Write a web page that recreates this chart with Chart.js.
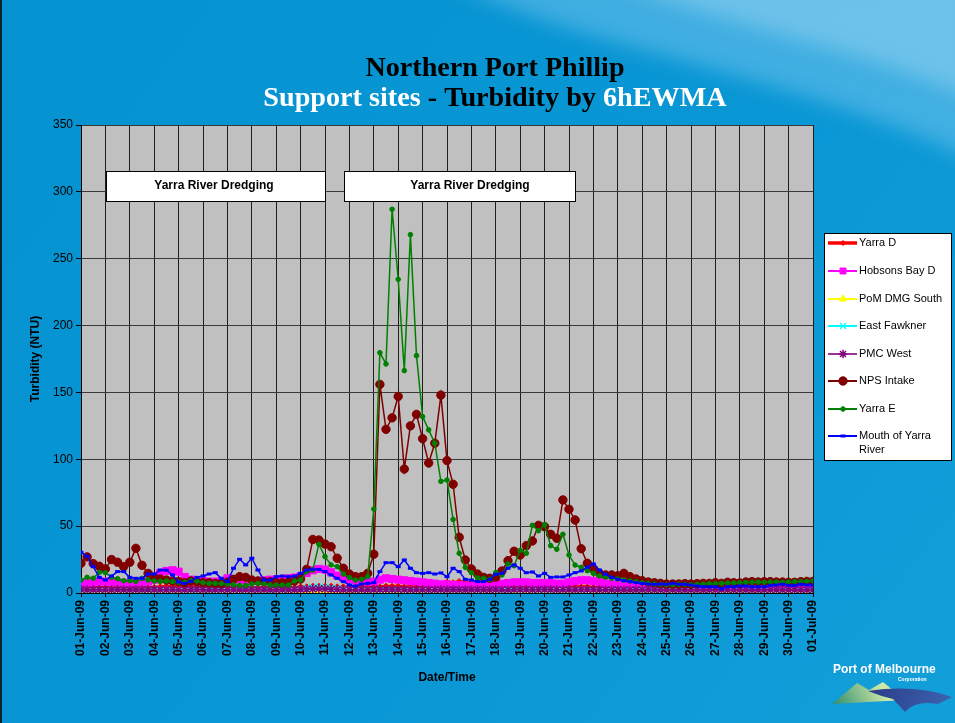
<!DOCTYPE html>
<html>
<head>
<meta charset="utf-8">
<title>Northern Port Phillip - Turbidity</title>
<script src="https://cdn.jsdelivr.net/npm/chart.js@4.4.1/dist/chart.umd.min.js"></script>
<style>
  html, body { margin: 0; padding: 0; background: #0996d3; overflow: hidden; }
  canvas { display: block; }
</style>
</head>
<body>
<canvas id="turbChart" width="955" height="723"></canvas>
<script>
// tick labels along the date axis (one per day)
const dateLabels = ['01-Jun-09','02-Jun-09','03-Jun-09','04-Jun-09','05-Jun-09','06-Jun-09','07-Jun-09','08-Jun-09',
  '09-Jun-09','10-Jun-09','11-Jun-09','12-Jun-09','13-Jun-09','14-Jun-09','15-Jun-09','16-Jun-09','17-Jun-09',
  '18-Jun-09','19-Jun-09','20-Jun-09','21-Jun-09','22-Jun-09','23-Jun-09','24-Jun-09','25-Jun-09','26-Jun-09',
  '27-Jun-09','28-Jun-09','29-Jun-09','30-Jun-09','01-Jul-09'];
const yTicks = [0, 50, 100, 150, 200, 250, 300, 350];

// one reading every 6 hours
const stepDays = 0.25;

const seriesNames = ['Yarra D','Hobsons Bay D','PoM DMG South','East Fawkner','PMC West','NPS Intake','Yarra E','Mouth of Yarra River'];

const yarraD = [
  4, 4, 4, 4.5, 4.5, 4, 4, 4, 3.5, 3.5, 4, 4,
  4.5, 5, 5.5, 5.5, 5.5, 5, 5, 5, 4.5, 4.5, 4.5, 4.5,
  4.5, 4.5, 4, 4, 4, 4, 4, 4, 4, 4, 4, 4.5,
  5, 5, 5.5, 5.5, 5.5, 5.5, 5, 5, 5, 5, 5, 5,
  5, 5, 5.5, 5.5, 5.5, 5, 5, 5, 5, 5, 6, 7,
  8.5, 8, 9, 8.5, 8, 9, 8, 7, 6, 5.5, 5, 5,
  5, 5, 5, 5, 5, 5, 5.5, 6, 5, 5, 5, 5,
  4.5, 4.5, 4.5, 4, 4, 4, 4, 4, 3.5, 3.5, 3.5, 3.5,
  3.5, 3.5, 3.5, 3.5, 3.5, 3.5, 3.5, 3.5, 3.5, 3.5, 3.5, 3.5,
  3.5, 3.5, 3.5, 3.5, 3.5, 3.5, 3.5, 3.5, 3.5, 3.5, 3.5, 3.5,
  3.5];

const hobsonsBayD = [
  7, 7.5, 8, 8.5, 8.5, 8, 8, 7.5, 7.5, 7.5, 8, 8.5,
  10, 15, 16.5, 17, 16, 12, 10, 9.5, 9, 8.5, 8.5, 9,
  11, 10.5, 10, 9.5, 9, 9, 9.5, 10, 10, 10.5, 11, 11.5,
  12.5, 15, 17, 18, 17.5, 15.5, 13, 11.5, 10.5, 9.5, 9, 8.5,
  8.5, 10, 11, 10.5, 10, 9.5, 9, 8.5, 8, 7.5, 7, 6.5,
  6.5, 6, 6, 5.5, 5.5, 5.5, 5.5, 6, 6, 7, 7.5, 8,
  8, 8, 7.5, 7.5, 7.5, 7.5, 7, 7, 8, 9, 9.5, 9.5,
  9, 8, 7, 6.5, 6, 5.5, 5.5, 5, 5, 4.5, 4.5, 4.5,
  4, 4, 4, 4, 4, 4, 3.5, 3.5, 3.5, 3.5, 3.5, 3.5,
  3.5, 3.5, 3.5, 3.5, 3.5, 3.5, 3.5, 3.5, 3.5, 3.5, 3.5, 3.5,
  3.5];

const pomDmgSouth = [
  1, 1.1, 0.9, 1, 1.1, 1, 0.9, 1, 1.1, 1, 1, 0.9,
  1, 1.1, 1, 0.9, 1, 1.1, 1, 1, 0.9, 1, 1.1, 1,
  1, 0.9, 1, 1.1, 1, 1, 0.9, 1, 1.1, 1, 1, 1,
  1.1, 1.2, 1.3, 1.2, 1.1, 1, 1, 0.9, 1, 1.1, 1, 1,
  0.9, 1, 1.1, 1, 1, 0.9, 1, 1.1, 1, 1, 0.9, 1,
  1.1, 1, 1, 0.9, 1, 1.1, 1, 1, 0.9, 1, 1.1, 1,
  1, 0.9, 1, 1.1, 1, 1, 0.9, 1, 1.1, 1, 1, 0.9,
  1, 1.1, 1, 1, 0.9, 1, 1.1, 1, 1, 0.9, 1, 1,
  0.9, 1, 1, 0.9, 1, 1, 0.9, 1, 1, 0.9, 1, 1,
  0.9, 1, 1, 0.9, 1, 1, 0.9, 1, 1, 0.9, 1, 1,
  1];

const eastFawkner = [
  2.2, 2, 2.1, 2.3, 2.1, 2, 2.2, 2.1, 2, 2.2, 2.1, 2.2,
  2.1, 2.2, 2, 2.1, 2.2, 2.1, 2, 2.1, 2.2, 2.1, 2, 2.1,
  2.1, 2.2, 2.1, 2, 2.1, 2.2, 2.1, 2, 2.1, 2.2, 2.3, 2.5,
  3, 3.8, 4.5, 4.8, 4.5, 4, 3.5, 3, 2.6, 2.4, 2.3, 2.2,
  2.2, 2.3, 2.4, 2.3, 2.2, 2.2, 2.1, 2.2, 2.1, 2, 2.1, 2.2,
  2.1, 2.2, 2.1, 2, 2.1, 2, 2.1, 2.2, 2.1, 2, 2.1, 2.2,
  2.2, 2.3, 2.2, 2.1, 2.2, 2.1, 2.2, 2.3, 2.2, 2.1, 2.2, 2.3,
  2.2, 2.1, 2, 2.1, 2, 2, 2.1, 2, 2, 2.1, 2, 2,
  2, 2.1, 2, 2, 2.1, 2, 2, 2.1, 2, 2, 2.1, 2,
  2, 2, 2.1, 2, 2, 2.1, 2, 2, 2.1, 2, 2, 2.1,
  2];

const pmcWest = [
  2.6, 2.4, 2.5, 2.7, 2.5, 2.4, 2.6, 2.5, 2.4, 2.6, 2.5, 2.7,
  2.6, 2.5, 2.4, 2.6, 2.5, 2.5, 2.7, 2.6, 2.4, 2.5, 2.6, 2.5,
  2.4, 2.6, 2.5, 2.7, 2.5, 2.4, 2.6, 2.5, 2.5, 2.6, 2.4, 2.5,
  2.7, 2.8, 3, 3.1, 2.9, 2.8, 2.6, 2.5, 2.4, 2.5, 2.6, 2.5,
  2.6, 2.7, 2.8, 2.7, 2.6, 2.6, 2.5, 2.6, 2.5, 2.4, 2.5, 2.6,
  2.5, 2.6, 2.5, 2.4, 2.5, 2.6, 2.5, 2.4, 2.6, 2.5, 2.5, 2.6,
  2.7, 2.6, 2.5, 2.6, 2.7, 2.6, 2.5, 2.5, 2.6, 2.5, 2.6, 2.7,
  2.6, 2.5, 2.4, 2.5, 2.5, 2.4, 2.5, 2.4, 2.5, 2.4, 2.4, 2.5,
  2.4, 2.5, 2.4, 2.4, 2.5, 2.4, 2.3, 2.4, 2.4, 2.5, 2.4, 2.3,
  2.4, 2.4, 2.3, 2.4, 2.5, 2.4, 2.4, 2.3, 2.4, 2.4, 2.5, 2.4,
  2.4];

const npsIntake = [
  22.2, 27, 22, 20, 18, 25, 23, 19.7, 23, 33.4, 20.7, 14.7,
  11.7, 10.5, 9.7, 9, 8.7, 7.7, 9, 8.5, 7.7, 7.7, 7.2, 7.2,
  8.2, 10.2, 12.2, 11.7, 9.7, 9, 8.5, 8.5, 7.7, 7.7, 8, 9,
  10.5, 17.7, 40, 39.6, 36.6, 34.6, 26, 18.5, 14.2, 12.2, 12.2, 14.7,
  29, 156, 122.4, 131, 147, 92.7, 125, 133.6, 115.4, 97.2, 112, 148,
  99, 81.3, 41.7, 24.7, 18, 14.2, 11.7, 11, 11.7, 16.5, 24.2, 31.2,
  28.4, 35.4, 38.9, 50.6, 49.6, 43.9, 40.9, 69.6, 62.6, 54.6, 33.1, 22.2,
  18.2, 14.7, 13.5, 13.5, 12.9, 14.7, 12.2, 10.5, 9.2, 8.2, 7.7, 7.2,
  6.7, 6.7, 6.7, 7, 6.7, 7, 7.2, 7.2, 7.7, 7.2, 8, 7.7,
  7.5, 8.2, 8.5, 8.2, 8.5, 8.5, 8.2, 8.2, 8, 8, 8.5, 8.7,
  8.7];

const yarraE = [
  9.7, 11.7, 11, 15.5, 15.2, 11.7, 10.7, 9.2, 9.2, 8.7, 11, 9.7,
  9, 8.7, 9, 8.5, 8, 8, 9.2, 9, 7.7, 7.2, 7.2, 7,
  6.7, 6.2, 5.7, 5.7, 6.7, 7.2, 7, 6, 6, 6, 6, 9,
  9.7, 16, 17.2, 36.4, 27.2, 21, 19.7, 14.2, 11.5, 9.7, 10.2, 12.2,
  62.8, 179.7, 171.3, 287, 234.6, 166.3, 268, 177.5, 131.9, 122, 112, 83.5,
  84.5, 55, 29.7, 19.2, 15.2, 11.2, 11, 10.2, 15.2, 13.5, 21.7, 20.4,
  31.9, 29.7, 50.6, 46.6, 51.1, 35.4, 32.7, 43.9, 28.4, 20.9, 19.2, 16.7,
  14.7, 12.7, 12, 11, 10.5, 9.7, 9, 8.5, 7.7, 7.2, 6.7, 6.5,
  6.2, 6.2, 6.5, 6.5, 6.2, 6.5, 6.7, 7, 7, 7.2, 7.5, 7.5,
  7.7, 8, 8, 8.2, 8, 8.2, 8.2, 8, 8.2, 8.5, 8.5, 8.7,
  9];

const mouthOfYarra = [
  30.4, 27.5, 19.7, 11.7, 9.7, 12.7, 16, 16, 11.7, 11, 11, 14.2,
  14.2, 17.2, 17, 13.5, 8.2, 7.2, 8.7, 11.7, 12.7, 14.2, 15.2, 11,
  8.5, 18.5, 25.2, 21, 26, 17.2, 9.7, 9.7, 12.2, 12.7, 12.2, 12.7,
  14.7, 17.2, 17.7, 17.7, 16, 13.5, 11, 8.5, 6, 5.2, 6.7, 7.2,
  7.7, 16, 22.7, 22.7, 19.7, 24.7, 18.5, 15.2, 14.7, 15.2, 14.2, 15,
  12.2, 18.5, 16, 10.2, 9.7, 8.5, 8.5, 10.2, 14, 14.7, 18.5, 21,
  18.5, 15.2, 15.7, 12.7, 14.7, 11.7, 12, 12, 13.5, 15.2, 16.5, 19.2,
  21.7, 17.2, 14, 11.7, 10.2, 9.2, 8.5, 7.7, 7.2, 6.7, 6.5, 6.7,
  6.5, 7.2, 6.5, 6.5, 6, 5.2, 4.7, 4.7, 4.7, 3.2, 4.7, 4.7,
  5.2, 5.2, 4.7, 4.7, 4.7, 5.7, 6, 6.5, 5.7, 5.7, 6.5, 6,
  6];

const allSeries = [yarraD, hobsonsBayD, pomDmgSouth, eastFawkner, pmcWest, npsIntake, yarraE, mouthOfYarra];

// look of each series
const lineColors = ['#ff0000', '#ff00ff', '#ffff00', '#00ffff', '#993399', '#800000', '#008000', '#0000ff'];
const markerColors = ['#ff0000', '#ff00ff', '#ffff00', '#00ffff', '#800080', '#800000', '#008000', '#0000ff'];
const markerStyles = ['rectRot', 'rect', 'triangle', 'crossRot', 'star', 'circle', 'circle', 'line'];
const markerSizes = [2.5, 5, 4, 4.5, 4.5, 4.2, 2.3, 2.5];
const markerBorders = [1, 1, 1, 1.2, 1.5, 1, 1, 3];
const lineWidths = [2, 2, 1, 1, 1.5, 1.5, 1.5, 1.5];

const sansFont = '"Liberation Sans", Arial, sans-serif';
const serifFont = '"Liberation Serif", "Times New Roman", serif';

let datasets = allSeries.map((vals, k) => {
  return {
    label: seriesNames[k],
    data: vals.map((v, i) => ({ x: i * stepDays, y: v })),
    borderColor: lineColors[k],
    backgroundColor: markerColors[k],
    pointBorderColor: markerColors[k],
    pointBackgroundColor: markerColors[k],
    pointStyle: markerStyles[k],
    pointRadius: markerSizes[k],
    pointBorderWidth: markerBorders[k],
    borderWidth: lineWidths[k],
    tension: 0,
    fill: false,
    order: allSeries.length - k
  };
});

let backdrop = {
  id: 'backdrop',
  beforeDraw(chart) {
    let ctx = chart.ctx;
    let w = chart.width, h = chart.height;
    ctx.save();
    let g = ctx.createLinearGradient(0, 0, w, h);
    g.addColorStop(0, '#0592d0');
    g.addColorStop(0.6, '#0a97d5');
    g.addColorStop(1, '#129fd9');
    ctx.fillStyle = g;
    ctx.fillRect(0, 0, w, h);

    // soft light swoosh top right
    ctx.filter = 'blur(10px)';
    ctx.beginPath();
    ctx.moveTo(450, -20);
    ctx.bezierCurveTo(580, 50, 780, 70, 975, 160);
    ctx.lineTo(975, -20);
    ctx.closePath();
    ctx.fillStyle = 'rgba(110, 195, 236, 0.55)';
    ctx.fill();
    ctx.beginPath();
    ctx.moveTo(610, -20);
    ctx.bezierCurveTo(720, 25, 850, 45, 975, 100);
    ctx.lineTo(975, -20);
    ctx.closePath();
    ctx.fillStyle = 'rgba(175, 222, 245, 0.4)';
    ctx.fill();
    ctx.filter = 'none';

    // dark frame edge on the left
    ctx.fillStyle = '#0b2230';
    ctx.fillRect(0, 0, 2, h);

    let a = chart.chartArea;
    ctx.fillStyle = '#c0c0c0';
    ctx.fillRect(a.left, a.top, a.right - a.left, a.bottom - a.top);
    ctx.restore();
  }
};

function drawBox(ctx, x, y, w, h, text, tx) {
  ctx.fillStyle = '#ffffff';
  ctx.fillRect(x, y, w, h);
  ctx.strokeStyle = '#000';
  ctx.lineWidth = 1;
  ctx.strokeRect(x + 0.5, y + 0.5, w, h);
  ctx.fillStyle = '#000';
  ctx.font = 'bold 12px ' + sansFont;
  ctx.textAlign = 'center';
  ctx.textBaseline = 'middle';
  ctx.fillText(text, tx, y + h / 2);
}

let overlay = {
  id: 'overlay',
  afterDraw(chart) {
    let ctx = chart.ctx;
    ctx.save();

    // title
    let line1 = 'Northern Port Phillip';
    ctx.font = 'bold 24px ' + serifFont;
    let s1 = 24 * 259 / ctx.measureText(line1).width;
    ctx.font = 'bold ' + s1.toFixed(1) + 'px ' + serifFont;
    ctx.textAlign = 'center';
    ctx.textBaseline = 'alphabetic';
    ctx.fillStyle = '#000';
    ctx.fillText(line1, 495, 76);

    let parts = [['Support sites', '#ffffff'], [' - Turbidity by ', '#000000'], ['6hEWMA', '#ffffff']];
    ctx.font = 'bold 24px ' + serifFont;
    let full = parts.map(p => p[0]).join('');
    let s2 = 24 * 464 / ctx.measureText(full).width;
    ctx.font = 'bold ' + s2.toFixed(1) + 'px ' + serifFont;
    let total = ctx.measureText(full).width;
    let px = 495 - total / 2;
    ctx.textAlign = 'left';
    parts.forEach(p => {
      ctx.fillStyle = p[1];
      ctx.fillText(p[0], px, 106);
      px += ctx.measureText(p[0]).width;
    });

    // axis titles
    ctx.fillStyle = '#000';
    ctx.font = 'bold 12px ' + sansFont;
    ctx.textAlign = 'center';
    ctx.textBaseline = 'middle';
    ctx.fillText('Date/Time', 447, 678);
    ctx.save();
    ctx.translate(36, 359);
    ctx.rotate(-Math.PI / 2);
    ctx.fillText('Turbidity (NTU)', 0, 0);
    ctx.restore();

    // dredging notes
    drawBox(ctx, 106, 171, 219, 30, 'Yarra River Dredging', 214);
    drawBox(ctx, 344, 171, 231, 30, 'Yarra River Dredging', 470);

    // legend
    ctx.fillStyle = '#ffffff';
    ctx.fillRect(824, 233, 127, 227);
    ctx.strokeStyle = '#000';
    ctx.lineWidth = 1;
    ctx.strokeRect(824.5, 233.5, 127, 227);
    let rows = [243, 271, 299, 326, 354, 381, 409, 436];
    ctx.font = '11px ' + sansFont;
    ctx.textAlign = 'left';
    ctx.textBaseline = 'middle';
    seriesNames.forEach((name, k) => {
      let y = rows[k];
      ctx.strokeStyle = lineColors[k];
      ctx.lineWidth = k === 0 ? 3.5 : 2;
      ctx.beginPath();
      ctx.moveTo(828, y);
      ctx.lineTo(857, y);
      ctx.stroke();
      ctx.fillStyle = markerColors[k];
      ctx.strokeStyle = markerColors[k];
      ctx.lineWidth = markerBorders[k];
      Chart.helpers.drawPoint(ctx, {
        pointStyle: markerStyles[k],
        radius: Math.min(markerSizes[k], 4.2),
        rotation: 0,
        borderWidth: markerBorders[k]
      }, 843, y);
      ctx.fillStyle = '#000';
      if (name === 'Mouth of Yarra River') {
        ctx.fillText('Mouth of Yarra', 859, y);
        ctx.fillText('River', 859, y + 14);
      } else {
        ctx.fillText(name, 859, y);
      }
    });

    // logo
    ctx.fillStyle = '#ffffff';
    ctx.font = 'bold 12px ' + sansFont;
    ctx.textAlign = 'left';
    ctx.textBaseline = 'alphabetic';
    ctx.fillText('Port of Melbourne', 833, 673);
    ctx.font = 'bold 5px ' + sansFont;
    ctx.fillText('Corporation', 898, 681);
    let hg = ctx.createLinearGradient(833, 705, 880, 682);
    hg.addColorStop(0, '#2f8f6c');
    hg.addColorStop(1, '#cfe8a8');
    ctx.fillStyle = hg;
    ctx.beginPath();
    ctx.moveTo(832, 704);
    ctx.lineTo(857, 683);
    ctx.lineTo(869, 690);
    ctx.lineTo(883, 682);
    ctx.lineTo(905, 700);
    ctx.closePath();
    ctx.fill();
    let bg = ctx.createLinearGradient(870, 688, 952, 710);
    bg.addColorStop(0, '#2b3d8a');
    bg.addColorStop(1, '#3c64b0');
    ctx.fillStyle = bg;
    ctx.beginPath();
    ctx.moveTo(868, 691);
    ctx.quadraticCurveTo(915, 684, 952, 697);
    ctx.lineTo(938, 704);
    ctx.quadraticCurveTo(915, 700, 905, 712);
    ctx.lineTo(893, 699);
    ctx.quadraticCurveTo(880, 696, 868, 691);
    ctx.closePath();
    ctx.fill();

    ctx.restore();
  }
};

let turbChart = new Chart(document.getElementById('turbChart').getContext('2d'), {
  type: 'line',
  data: { datasets: datasets },
  options: {
    responsive: false,
    animation: false,
    layout: { padding: { top: 125, right: 142, left: 0, bottom: 0 } },
    plugins: {
      legend: { display: false },
      tooltip: { enabled: false },
      title: { display: false }
    },
    scales: {
      x: {
        type: 'linear',
        min: 0,
        max: dateLabels.length - 1,
        afterFit: scale => { scale.height = 130; },
        afterBuildTicks: scale => { scale.ticks = dateLabels.map((d, i) => ({ value: i })); },
        ticks: {
          autoSkip: false,
          minRotation: 90,
          maxRotation: 90,
          padding: 3,
          color: '#000',
          font: { family: sansFont, size: 12, weight: 'bold' },
          callback: v => dateLabels[v]
        },
        grid: { color: '#1e1e1e', lineWidth: 1, tickLength: 4, tickColor: '#000' },
        border: { color: '#000', width: 1 }
      },
      y: {
        min: yTicks[0],
        max: yTicks[yTicks.length - 1],
        afterFit: scale => { scale.width = 81; },
        afterBuildTicks: scale => { scale.ticks = yTicks.map(v => ({ value: v })); },
        ticks: {
          padding: 3,
          color: '#000',
          font: { family: sansFont, size: 12 }
        },
        grid: { color: '#3a3a3a', lineWidth: 1, tickLength: 5, tickColor: '#000' },
        border: { color: '#000', width: 1 }
      }
    }
  },
  plugins: [backdrop, overlay]
});
</script>
</body>
</html>
